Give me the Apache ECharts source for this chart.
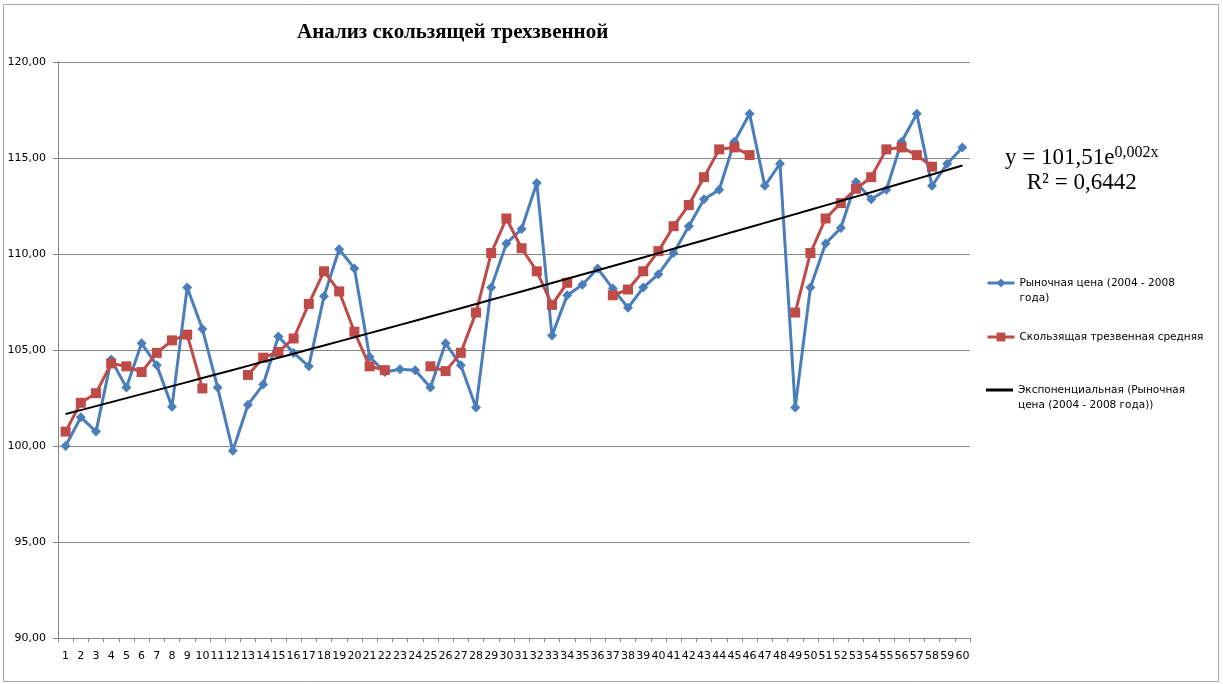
<!DOCTYPE html>
<html>
<head>
<meta charset="utf-8">
<script src="https://cdn.jsdelivr.net/npm/echarts@6.0.0/dist/echarts.min.js"></script>
<style>
html,body{margin:0;padding:0;background:#fff;}
#chart{width:1223px;height:684px;}
</style>
</head>
<body>
<div id="chart"></div>
<script>
// ---- data ----
const categories = ['1','2','3','4','5','6','7','8','9','10','11','12','13','14','15','16','17','18','19','20',
  '21','22','23','24','25','26','27','28','29','30','31','32','33','34','35','36','37','38','39','40',
  '41','42','43','44','45','46','47','48','49','50','51','52','53','54','55','56','57','58','59','60'];

// Рыночная цена (2004 - 2008 года)
const marketPrice = [
  100.00, 101.50, 100.75, 104.50, 103.05, 105.35, 104.20, 102.05, 108.25, 106.10,
  103.05,  99.75, 102.15, 103.20, 105.70, 104.85, 104.15, 107.80, 110.25, 109.25,
  104.65, 103.85, 104.00, 103.95, 103.05, 105.35, 104.20, 102.00, 108.25, 110.55,
  111.30, 113.70, 105.75, 107.85, 108.40, 109.25, 108.20, 107.20, 108.25, 108.95,
  110.05, 111.45, 112.85, 113.35, 115.85, 117.30, 113.55, 114.70, 102.00, 108.25,
  110.55, 111.35, 113.75, 112.85, 113.35, 115.85, 117.30, 113.55, 114.70, 115.55
];

// Скользящая трезвенная средняя (gaps where the reference shows none)
const movingAverage = [
  100.75, 102.25, 102.75, 104.30, 104.15, 103.85, 104.85, 105.50, 105.80, 103.00,
  null,   null,   103.70, 104.60, 104.90, 105.60, 107.40, 109.10, 108.05, 105.95,
  104.15, 103.95, null,   null,   104.15, 103.90, 104.85, 106.95, 110.05, 111.85,
  110.30, 109.10, 107.35, 108.50, null,   null,   107.85, 108.15, 109.10, 110.15,
  111.45, 112.55, 114.00, 115.45, 115.55, 115.15, null,   null,   106.95, 110.05,
  111.85, 112.65, 113.40, 114.00, 115.45, 115.55, 115.15, 114.55, null,   null
];

const seriesNames = [
  'Рыночная цена (2004 - 2008 года)',
  'Скользящая трезвенная средняя',
  'Экспоненциальная (Рыночная цена (2004 - 2008 года))'
];
const legendLabels = [
  'Рыночная цена (2004 - 2008\nгода)',
  'Скользящая трезвенная средняя',
  'Экспоненциальная (Рыночная\nцена (2004 - 2008 года))'
];
const yMin = 90, yMax = 120, yStep = 5;
const titleText = 'Анализ скользящей трехзвенной';
const equationText = ['y = 101,51e', '0,002x', 'R² = 0,6442'];

// Exponential trendline: least-squares fit of ln(price) on x = 1..n (as the spreadsheet does)
function expTrend(values) {
  const n = values.length;
  let sx = 0, sy = 0, sxx = 0, sxy = 0;
  values.forEach((v, i) => {
    const x = i + 1, y = Math.log(v);
    sx += x; sy += y; sxx += x * x; sxy += x * y;
  });
  const b = (n * sxy - sx * sy) / (n * sxx - sx * sx);
  const a = Math.exp((sy - b * sx) / n);
  return values.map((v, i) => +(a * Math.exp(b * (i + 1))).toFixed(4));
}
const trend = expTrend(marketPrice);

const FONT = 'DejaVu Sans';
const chart = echarts.init(document.getElementById('chart'), null, {renderer: 'canvas'});

function legendAt(idx, iconY, plainLine) {
  const label = legendLabels[idx];
  const twoLines = label.indexOf('\n') >= 0;
  const ih = plainLine ? 3 : 11;
  const item = {name: seriesNames[idx]};
  if (plainLine) item.icon = 'rect';
  return {
    orient: 'vertical',
    left: 986,
    top: iconY - (twoLines ? 22.5 : Math.max(7.5, ih / 2)),
    padding: 0,
    itemWidth: 27,
    itemHeight: ih,
    itemGap: 0,
    lineStyle: {width: 3},
    textStyle: {fontFamily: FONT, fontSize: 10.5, color: '#000', lineHeight: 15},
    // a leading empty line keeps the icon level with the first text line
    formatter: () => (twoLines ? '\n' : '') + label,
    selectedMode: false,
    data: [item]
  };
}

chart.setOption({
  backgroundColor: '#ffffff',
  animation: false,
  title: {
    text: titleText,
    left: 297,
    top: 22,
    padding: 0,
    textStyle: {fontFamily: 'Liberation Serif', fontWeight: 'bold', fontSize: 21, color: '#000'}
  },
  legend: [legendAt(0, 283, false), legendAt(1, 337, false), legendAt(2, 390, true)],
  grid: {left: 58, right: 253, top: 62, bottom: 46, containLabel: false},
  xAxis: {
    type: 'category',
    data: categories,
    boundaryGap: true,
    axisLine: {lineStyle: {color: '#868686', width: 1}},
    axisTick: {show: true, alignWithLabel: false, length: 4, lineStyle: {color: '#868686'}},
    axisLabel: {interval: 0, fontFamily: FONT, fontSize: 11, color: '#000', margin: 13},
    splitLine: {show: false}
  },
  yAxis: {
    type: 'value',
    min: yMin, max: yMax, interval: yStep,
    axisLine: {show: true, lineStyle: {color: '#868686', width: 1}},
    axisTick: {show: true, length: 5, lineStyle: {color: '#868686'}},
    axisLabel: {fontFamily: FONT, fontSize: 11, color: '#000', margin: 12,
      formatter: v => v.toFixed(2).replace('.', ',')},
    splitLine: {show: true, lineStyle: {color: '#868686', width: 1}}
  },
  series: [
    {
      name: seriesNames[0], type: 'line', data: marketPrice,
      symbol: 'diamond', symbolSize: 10, showAllSymbol: true,
      lineStyle: {color: '#4A7EBB', width: 3},
      itemStyle: {color: '#4A7EBB'},
      z: 2
    },
    {
      name: seriesNames[1], type: 'line', data: movingAverage, connectNulls: false,
      symbol: 'rect', symbolSize: 10, showAllSymbol: true,
      lineStyle: {color: '#BE4B48', width: 3},
      itemStyle: {color: '#BE4B48'},
      z: 3
    },
    {
      name: seriesNames[2], type: 'line', data: trend,
      symbol: 'none', smooth: false,
      lineStyle: {color: '#000000', width: 2},
      itemStyle: {color: '#000000'},
      z: 4
    }
  ],
  graphic: [
    {
      type: 'rect', silent: true, z: -1,
      shape: {x: 3.5, y: 4.5, width: 1215, height: 677},
      style: {fill: null, stroke: '#a6a6a6', lineWidth: 1}
    },
    {
      type: 'text', silent: true, left: 1005, top: 142,
      style: {
        text: '{n|' + equationText[0] + '}{s|' + equationText[1] + '}\n{r|' + equationText[2] + '}',
        rich: {
          n: {fontFamily: 'Liberation Serif', fontSize: 23, color: '#000', lineHeight: 27, verticalAlign: 'bottom'},
          s: {fontFamily: 'Liberation Serif', fontSize: 16, color: '#000', lineHeight: 27, verticalAlign: 'top', padding: [3, 0, 0, 0]},
          r: {fontFamily: 'Liberation Serif', fontSize: 23, color: '#000', lineHeight: 27, align: 'center'}
        },
        align: 'left'
      }
    }
  ]
});
</script>
</body>
</html>
